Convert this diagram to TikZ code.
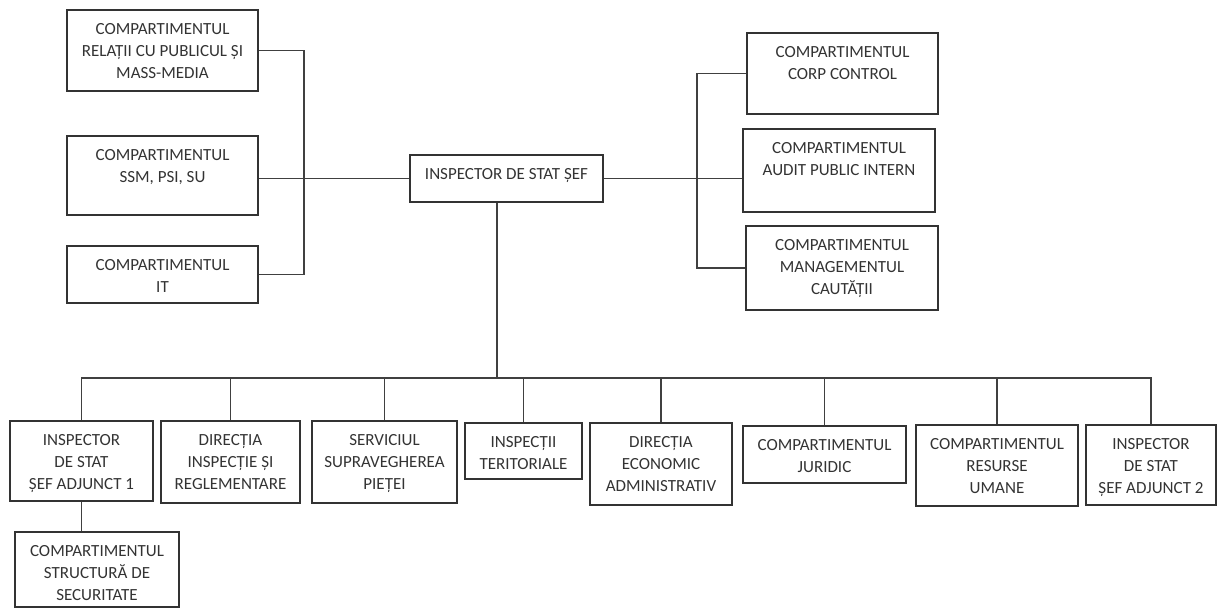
\documentclass[tikz,border=0pt]{standalone}
\usepackage{fontspec}
\setmainfont{Carlito}
\usepackage{tikz}
\usetikzlibrary{positioning, fit, calc}
\tikzstyle{box} = [draw=black!80, line width=0.9pt, inner sep=0pt]
\tikzstyle{boxtext} = [anchor=north, inner sep=0pt, align=center, text=black!80, font=\fontsize{8.5}{11}\selectfont]
\tikzstyle{conn} = [line width=0.7pt, black!75]

\begin{document}
\begin{tikzpicture}[x=0.5pt, y=-0.5pt]
\useasboundingbox (0,0) rectangle (1227,610);

% Chief inspector
\node[box, fit={(410,155) (603,202)}] (chief) {};
\node[boxtext] (chief-t) at ([yshift=-6.8pt]chief.north) {INSPECTOR DE STAT ȘEF};

% Left compartments
\node[box, fit={(67,10) (258,91)}] (relpub) {};
\node[boxtext] (relpub-t) at ([yshift=-6.8pt]relpub.north) {COMPARTIMENTUL\\RELAȚII CU PUBLICUL ȘI\\MASS-MEDIA};

\node[box, fit={(67,136) (258,215)}] (ssm) {};
\node[boxtext] (ssm-t) at ([yshift=-6.8pt]ssm.north) {COMPARTIMENTUL\\SSM, PSI, SU};

\node[box, fit={(67,246) (258,303)}] (it) {};
\node[boxtext] (it-t) at ([yshift=-6.8pt]it.north) {COMPARTIMENTUL\\IT};

% Right compartments
\node[box, fit={(747,33) (938,114)}] (corp) {};
\node[boxtext] (corp-t) at ([yshift=-6.8pt]corp.north) {COMPARTIMENTUL\\CORP CONTROL};

\node[box, fit={(743,129) (935,212)}] (audit) {};
\node[boxtext] (audit-t) at ([yshift=-6.8pt]audit.north) {COMPARTIMENTUL\\AUDIT PUBLIC INTERN};

\node[box, fit={(746,226) (938,310)}] (calit) {};
\node[boxtext] (calit-t) at ([yshift=-6.8pt]calit.north) {COMPARTIMENTUL\\MANAGEMENTUL\\CAUTĂȚII};

% Bottom row
\node[box, fit={(10,421) (153,501)}] (adj1) {};
\node[boxtext] (adj1-t) at ([yshift=-6.8pt]adj1.north) {INSPECTOR\\DE STAT\\ȘEF ADJUNCT 1};

\node[box, fit={(161,421) (300,503)}] (dirinsp) {};
\node[boxtext] (dirinsp-t) at ([yshift=-6.8pt]dirinsp.north) {DIRECȚIA\\INSPECȚIE ȘI\\REGLEMENTARE};

\node[box, fit={(312,421) (457,503)}] (supr) {};
\node[boxtext] (supr-t) at ([yshift=-6.8pt]supr.north) {SERVICIUL\\SUPRAVEGHEREA\\PIEȚEI};

\node[box, fit={(465,423) (582,479)}] (terit) {};
\node[boxtext] (terit-t) at ([yshift=-6.8pt]terit.north) {INSPECȚII\\TERITORIALE};

\node[box, fit={(590,423) (732,505)}] (econ) {};
\node[boxtext] (econ-t) at ([yshift=-6.8pt]econ.north) {DIRECȚIA\\ECONOMIC\\ADMINISTRATIV};

\node[box, fit={(743,426) (906,483)}] (jur) {};
\node[boxtext] (jur-t) at ([yshift=-6.8pt]jur.north) {COMPARTIMENTUL\\JURIDIC};

\node[box, fit={(916,425) (1078,506)}] (resum) {};
\node[boxtext] (resum-t) at ([yshift=-6.8pt]resum.north) {COMPARTIMENTUL\\RESURSE\\UMANE};

\node[box, fit={(1086,425) (1216,505)}] (adj2) {};
\node[boxtext] (adj2-t) at ([yshift=-6.8pt]adj2.north) {INSPECTOR\\DE STAT\\ȘEF ADJUNCT 2};

% Under adjunct 1
\node[box, fit={(15,532) (179,607)}] (secur) {};
\node[boxtext] (secur-t) at ([yshift=-6.8pt]secur.north) {COMPARTIMENTUL\\STRUCTURĂ DE\\SECURITATE};

% Connectors
\coordinate (ljoin) at (304,178);
\coordinate (rjoin) at (697,178);
\coordinate (bus) at (497,378);

\draw[conn] (relpub.east) -| (ljoin);
\draw[conn] (it.east) -| (ljoin);
\draw[conn] (chief.west) -- (chief.west -| ssm.east);

\draw[conn] (corp.west) -| (rjoin);
\draw[conn] (calit.west) -| (rjoin);
\draw[conn] (chief.east) -- (chief.east -| audit.west);

\draw[conn] (bus |- chief.south) -- (bus);
\foreach \b in {adj1, dirinsp, supr, terit, econ, jur, resum, adj2}
  \draw[conn] (bus) -| (\b.north);

\draw[conn] (adj1.south) -- (adj1.south |- secur.north);
\end{tikzpicture}
\end{document}
